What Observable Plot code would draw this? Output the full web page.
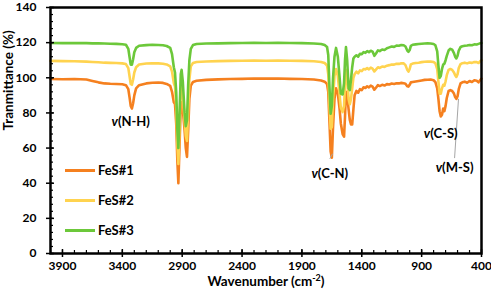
<!DOCTYPE html>
<html>
<head>
<meta charset="utf-8">
<script src="https://cdn.jsdelivr.net/npm/d3@7"></script>
<script src="https://cdn.jsdelivr.net/npm/@observablehq/plot@0.6"></script>
<style>
  html, body { margin: 0; padding: 0; background: #fff; }
  #wrap { position: relative; width: 491px; height: 293px; font-family: Lato, "Open Sans", sans-serif; }
  #legend { position: absolute; left: 65px; top: 155px; font-weight: 700; font-size: 13px; color: #000; }
  .item { display: flex; align-items: center; height: 30px; }
  .sw { width: 30px; height: 3px; margin-right: 3px; }
</style>
</head>
<body>
<div id="wrap"><div id="legend"></div></div>
<script>
const seriesNames = ["FeS#1", "FeS#2", "FeS#3"];
const seriesColors = ["#F5801F", "#FFD34F", "#6CC83A"];

const wavenumber = [4000,3900,3800,3700,3650,3600,3550,3500,3450,3400,3370,3350,3340,3330,3320,3310,3300,3285,3260,3200,3150,3100,3060,3030,3000,2985,2970,2960,2950,2940,2932,2922,2912,2905,2895,2880,2870,2860,2850,2840,2828,2810,2780,2700,2600,2500,2400,2300,2200,2100,2000,1900,1800,1740,1710,1690,1680,1670,1660,1650,1640,1628,1615,1600,1585,1575,1560,1548,1540,1532,1522,1510,1500,1490,1480,1470,1460,1445,1430,1415,1400,1385,1370,1355,1340,1325,1310,1295,1280,1265,1250,1230,1210,1190,1170,1150,1130,1110,1090,1070,1050,1035,1020,1010,1000,990,975,950,925,900,875,850,825,800,785,770,760,750,740,730,720,710,700,690,675,660,645,630,620,610,600,590,575,560,540,520,500,480,460,440,425,410,400];

const fes1 = [99.3,99.2,99.3,99.0,98.2,97.4,96.8,96.6,96.5,96.3,95.8,93.5,89,84,82.5,85.5,90,94,95.8,96.8,97.2,97.3,97.1,96.5,95.4,92,86,85,74,52,40,62,84,86,82,70,60,55,70,88,95.5,97.6,98.3,98.8,99.1,99.3,99.4,99.6,99.5,99.6,99.4,99.3,99.0,98.5,97.8,96.5,92,75,58,54.5,72,88,94,91,82,74,68,66.5,78,92,90,82,76,73.5,73.5,82,90,92.5,91.5,93.5,93,94.6,94.2,95.2,94.5,95.6,95,93.2,94.5,95.8,95.3,96,95.6,96.4,96.2,96.7,96.5,96.9,96.8,97.1,96.9,96.6,95.2,95,96,97.4,97.6,97.9,98.2,98.5,98.8,98.9,99.0,98.6,97.5,94,88,81,78,79,82.5,81,84,88.5,92.5,93,92.5,91,89,88,89.5,93.5,96.8,97.4,97.8,97.2,98.2,97.6,98.6,98.3,97.4,98.8,99.5];

const fes2 = [109.6,109.5,109.4,109.2,109.0,108.8,108.6,108.5,108.4,108.2,107.8,105.5,101,96.5,96,99,103,106,107.6,108.1,108.3,108.2,108.0,107.6,106.5,103.5,97,95,84,62,51,72,94,96,90,76,67,64,82,99,106.5,108.4,109.0,109.3,109.5,109.6,109.7,109.8,109.7,109.8,109.7,109.6,109.4,109.0,108.4,107,102,85,71,72,88,101,105,101,90,83,80.5,84,96,104.5,100,88,85,88,94,100,102,103.5,102.5,104.2,103.8,105,104.8,105.5,104.8,105.8,105.2,103.6,104.8,106,105.6,106.4,106.2,106.9,107.2,107.6,107.5,108.0,107.9,108.3,108.2,107.2,104.5,103.5,105,107.6,108.1,108.4,108.6,108.9,109.1,109.2,109.2,109.0,108.2,105,98,91,91,94,96,95.5,98,101.5,104.5,105,104.5,103,101.5,100.5,102,105.5,107.8,108.3,108.6,108.2,108.7,108.5,109.0,108.9,108.4,109.5,110.0];

const fes3 = [119.8,119.7,119.8,119.7,119.6,119.6,119.5,119.4,119.3,119.1,118.8,116.5,112,107.5,107.5,110.5,114.5,117,118.2,118.6,118.8,118.7,118.5,118.1,117,113.5,106,103,92,70,60,80,102,104.5,98,80,72.5,76,96,110,116.5,118.6,119.2,119.5,119.6,119.7,119.8,119.9,119.8,119.9,119.8,119.7,119.5,119.2,118.6,117.5,113,95,79.5,84,100,112,117,112,100,91,90.5,97,110,117.5,110,94,93,99,106,111,112,112.8,112,113.7,113.4,114.6,114.2,115.2,114.6,115.4,114.9,112.5,114,115.6,115.2,116.1,115.8,116.8,117.3,117.8,117.6,118.3,118.2,118.7,118.5,117.8,115.5,114.8,115.8,118.2,118.8,119.0,119.2,119.4,119.5,119.6,119.5,119.2,118.5,115,107,100,101,105,107.5,108,110,112.5,115.5,116.5,116,114,112,111,112.5,115.5,117.5,117.9,118.2,118.4,118.7,118.5,119.0,118.9,119.3,119.6,119.8];

const xMajorTicks = [3900, 3400, 2900, 2400, 1900, 1400, 900, 400];
const xMinorTicks = d3.range(4000, 399, -100);
const yMajorTicks = [0, 20, 40, 60, 80, 100, 120, 140];
const yMinorTicks = d3.range(0, 141, 4);

const annotLabels = ["v(N-H)", "v(C-N)", "v(C-S)", "v(M-S)"];
const annotW = [3330, 1667, 741, 625];
const annotV = [75, 45.6, 68, 49];
const leaderW1 = [1667, 625], leaderV1 = [53.9, 54.3];
const leaderW2 = [1644, 592], leaderV2 = [56.8, 88];

const xTitle = "Wavenumber (cm-2)";
const yTitle = "Tranmittance (%)";

const series = [fes1, fes2, fes3].map((vals, i) =>
  wavenumber.map((w, j) => ({w, v: vals[j], s: seriesNames[i]})));
const annots = annotLabels.map((t, i) => ({t, w: annotW[i], v: annotV[i]}));
const leaders = leaderW1.map((w, i) => ({w1: w, v1: leaderV1[i], w2: leaderW2[i], v2: leaderV2[i]}));

const chart = Plot.plot({
  width: 491,
  height: 293,
  marginLeft: 50,
  marginRight: 10,
  marginTop: 7,
  marginBottom: 40,
  style: {fontFamily: "Lato, 'Open Sans', sans-serif", fontWeight: 700, fontSize: "12px", color: "#000", background: "#fff", overflow: "visible"},
  x: {domain: [4000, 400]},
  y: {domain: [0, 140]},
  marks: [
    ...series.map((d, i) => Plot.line(d, {x: "w", y: "v", stroke: seriesColors[i], strokeWidth: 2.6})),
    Plot.link(leaders, {x1: "w1", y1: "v1", x2: "w2", y2: "v2", stroke: "#A6A6A6", strokeWidth: 1}),
    Plot.text(annots, {x: "w", y: "v", text: "t", fontSize: 13, fill: "#000"}),
    Plot.frame({stroke: "#000", strokeWidth: 2.5}),
    Plot.axisY({ticks: yMajorTicks, tickSize: 8, dx: 4, fill: "none", label: null, strokeWidth: 1.5}),
    Plot.axisY({ticks: yMinorTicks, tickSize: 3, dx: 3, fill: "none", label: null, strokeWidth: 1.2}),
    Plot.axisY({ticks: yMajorTicks, tickSize: 0, tickPadding: 14, label: null, fontSize: 12}),
    Plot.axisX({ticks: xMajorTicks, tickSize: 8, dy: -4, fill: "none", label: null, strokeWidth: 1.5}),
    Plot.axisX({ticks: xMinorTicks, tickSize: 3, dy: -3, fill: "none", label: null, strokeWidth: 1.2}),
    Plot.axisX({ticks: xMajorTicks, tickSize: 0, tickPadding: 8, label: null, fontSize: 12, tickFormat: d => String(d)}),
    Plot.text([xTitle], {text: d => d, frameAnchor: "bottom", dy: 32, fontSize: 13.5}),
    Plot.text([yTitle], {text: d => d, frameAnchor: "left", dx: -42, rotate: -90, fontSize: 13.5})
  ]
});

d3.select(chart).selectAll("text").each(function() {
  const t = this.textContent;
  if (annotLabels.includes(t)) {
    this.textContent = "";
    d3.select(this).append("tspan").attr("font-style", "italic").text("v");
    d3.select(this).append("tspan").text(t.slice(1));
  } else if (t === xTitle) {
    this.textContent = "";
    d3.select(this).append("tspan").text("Wavenumber (cm");
    d3.select(this).append("tspan").attr("baseline-shift", "super").attr("font-size", "9px").text("-2");
    d3.select(this).append("tspan").text(")");
  }
});

const wrap = document.getElementById("wrap");
wrap.insertBefore(chart, wrap.firstChild);
const legend = d3.select("#legend");
seriesNames.forEach((n, i) => {
  const it = legend.append("div").attr("class", "item");
  it.append("div").attr("class", "sw").style("background", seriesColors[i]);
  it.append("span").text(n);
});
</script>
</body>
</html>
